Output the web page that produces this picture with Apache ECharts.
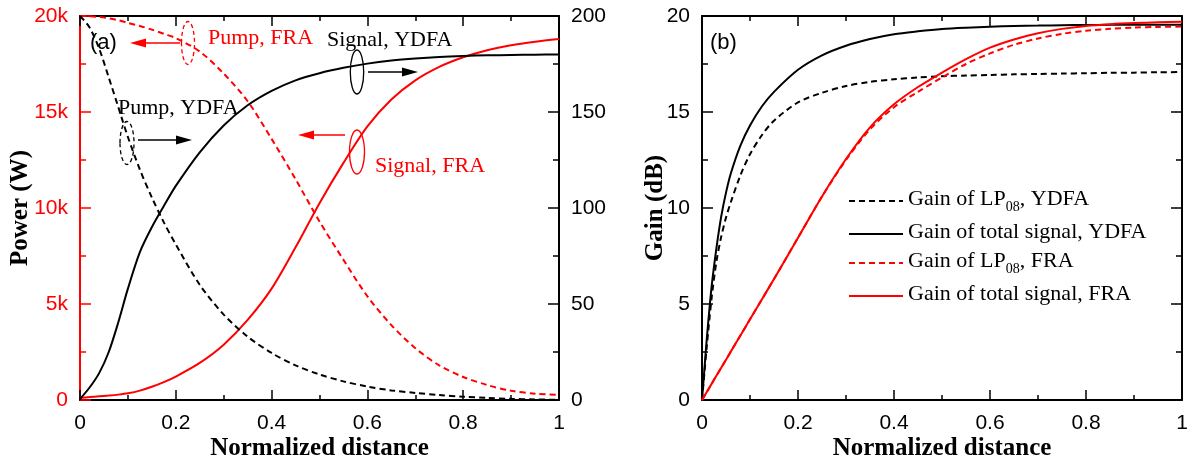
<!DOCTYPE html>
<html>
<head>
<meta charset="utf-8">
<script src="https://cdn.jsdelivr.net/npm/echarts@6/dist/echarts.min.js"></script>
<style>
  html, body { margin: 0; padding: 0; background: #fff; }
  #chart { width: 1200px; height: 468px; }
</style>
</head>
<body>
<div id="chart"></div>
<script>
// ---- (a) power along the fibre ----
const xPower = [0, 0.02, 0.04, 0.06, 0.08, 0.1, 0.125, 0.15, 0.175, 0.2, 0.25, 0.3, 0.35, 0.4, 0.45, 0.5, 0.55, 0.6, 0.65, 0.7, 0.75, 0.8, 0.85, 0.9, 0.95, 1];
// FRA powers (W), left axis
const pumpFRA   = [20000, 19990, 19950, 19880, 19780, 19640, 19480, 19290, 19070, 18850, 18150, 17000, 15560, 13600, 11500, 9300, 7300, 5400, 3900, 2700, 1800, 1200, 780, 480, 330, 260];
const signalFRA = [120, 150, 190, 230, 280, 350, 490, 690, 930, 1220, 1930, 2880, 4170, 5800, 7950, 10250, 12350, 14250, 15650, 16650, 17350, 17850, 18220, 18480, 18660, 18800];
// YDFA powers (W), right axis
const pumpYDFA   = [200, 194, 183, 168, 152.5, 137, 120, 105.5, 92.5, 81, 60, 44.5, 33, 24.5, 18, 13.3, 9.7, 7.0, 5.0, 3.7, 2.6, 1.7, 1.1, 0.6, 0.3, 0.1];
const signalYDFA = [0.5, 6.5, 14, 25, 40.5, 58, 77, 90, 101, 111.5, 129, 143, 153.5, 161, 166.5, 170.2, 173, 175.2, 176.8, 177.9, 178.7, 179.2, 179.5, 179.7, 179.85, 180];

// ---- (b) gain along the fibre ----
const xGain = [0, 0.005, 0.01, 0.02, 0.03, 0.04, 0.05, 0.06, 0.08, 0.1, 0.125, 0.15, 0.2, 0.25, 0.3, 0.35, 0.4, 0.45, 0.5, 0.55, 0.6, 0.65, 0.7, 0.75, 0.8, 0.85, 0.9, 0.95, 1];
const gainLpYDFA  = [0, 1.4, 2.8, 5.3, 7.2, 8.5, 9.5, 10.3, 11.7, 12.8, 13.8, 14.55, 15.5, 16.0, 16.35, 16.57, 16.7, 16.8, 16.86, 16.9, 16.93, 16.96, 16.98, 17.0, 17.02, 17.04, 17.05, 17.07, 17.08];
const gainTotYDFA = [0, 1.6, 3.2, 5.9, 7.9, 9.55, 10.8, 11.8, 13.25, 14.3, 15.3, 16.05, 17.2, 17.95, 18.45, 18.8, 19.05, 19.2, 19.32, 19.39, 19.44, 19.48, 19.5, 19.52, 19.53, 19.54, 19.55, 19.55, 19.55];
const gainLpFRA   = [0, 0.21, 0.42, 0.84, 1.26, 1.68, 2.1, 2.52, 3.36, 4.2, 5.25, 6.3, 8.45, 10.6, 12.5, 14.1, 15.25, 16.05, 16.8, 17.5, 18.05, 18.5, 18.83, 19.07, 19.23, 19.33, 19.4, 19.43, 19.45];
const gainTotFRA  = [0, 0.21, 0.42, 0.84, 1.26, 1.68, 2.1, 2.52, 3.36, 4.2, 5.25, 6.3, 8.45, 10.6, 12.55, 14.2, 15.4, 16.3, 17.05, 17.75, 18.35, 18.78, 19.1, 19.33, 19.48, 19.57, 19.63, 19.67, 19.7];

const legendNames = ['Gain of LP08, YDFA', 'Gain of total signal, YDFA', 'Gain of LP08, FRA', 'Gain of total signal, FRA'];

const SANS = '"Liberation Sans", Arial, sans-serif';
const SERIF = '"Liberation Serif", "Times New Roman", serif';
const RED = '#ff0000';
const BLACK = '#000000';

const pairs = (xs, ys) => xs.map((x, i) => [x, ys[i]]);

function xAxisDef(grid, pos, withName) {
  return {
    type: 'value', gridIndex: grid, position: pos, min: 0, max: 1, interval: 0.2,
    axisLine: { show: true, onZero: false, lineStyle: { color: BLACK, width: 2 } },
    axisTick: { show: true, inside: true, length: 10, lineStyle: { color: BLACK, width: 1.5 } },
    minorTick: { show: true, splitNumber: 2, length: 5, lineStyle: { color: BLACK, width: 1.5 } },
    splitLine: { show: false },
    axisLabel: { show: withName, fontFamily: SANS, fontSize: 21, color: BLACK, margin: 13, showMaxLabel: true, showMinLabel: true },
    name: withName ? 'Normalized distance' : '',
    nameLocation: 'middle', nameGap: 36, nameMoveOverlap: false,
    nameTextStyle: { fontFamily: SERIF, fontWeight: 'bold', fontSize: 25, color: BLACK }
  };
}

function yAxisDef(grid, pos, max, interval, color, showLabel, fmt, name, nameGap) {
  return {
    type: 'value', gridIndex: grid, position: pos, min: 0, max: max, interval: interval,
    axisLine: { show: true, onZero: false, lineStyle: { color: color, width: 2 } },
    axisTick: { show: true, inside: true, length: 11, lineStyle: { color: color, width: 1.5 } },
    minorTick: { show: true, splitNumber: 2, length: 6, lineStyle: { color: color, width: 1.5 } },
    splitLine: { show: false },
    axisLabel: { show: showLabel, fontFamily: SANS, fontSize: 21, color: color, margin: 12, formatter: fmt, showMaxLabel: true, showMinLabel: true },
    name: name || '', nameLocation: 'middle', nameGap: nameGap || 40, nameRotate: 90, nameMoveOverlap: false,
    nameTextStyle: { fontFamily: SERIF, fontWeight: 'bold', fontSize: 25, color: BLACK }
  };
}

function lineSeries(name, xi, yi, data, color, dashed, z) {
  return {
    name: name, type: 'line', xAxisIndex: xi, yAxisIndex: yi, data: data,
    symbol: 'none', showSymbol: false, smooth: 0.3,
    lineStyle: { color: color, width: 2, type: dashed ? [6, 4] : 'solid' },
    itemStyle: { color: color },
    z: z || 2, animation: false
  };
}

// annotation helpers
function label(text, x, y, color, font) {
  return { type: 'text', x: x, y: y, z: 100,
    style: { text: text, fill: color, font: font || ('22px ' + SERIF), verticalAlign: 'middle', align: 'left' } };
}
function ellipse(cx, cy, rx, ry, color, dashed) {
  return { type: 'ellipse', z: 100, shape: { cx: cx, cy: cy, rx: rx, ry: ry },
    style: { fill: 'none', stroke: color, lineWidth: 1.3, lineDash: dashed ? [4, 3] : null } };
}
function arrow(xFrom, xTip, y, color) {
  const dir = xTip > xFrom ? 1 : -1;
  const head = 16, half = 4.5;
  return { type: 'group', z: 100, children: [
    { type: 'line', shape: { x1: xFrom, y1: y, x2: xTip - dir * head, y2: y }, style: { stroke: color, lineWidth: 1.5 } },
    { type: 'polygon', shape: { points: [[xTip, y], [xTip - dir * head, y - half], [xTip - dir * head, y + half]] }, style: { fill: color } }
  ] };
}

const chart = echarts.init(document.getElementById('chart'), null, { renderer: 'canvas' });

const option = {
  animation: false,
  backgroundColor: '#ffffff',
  grid: [
    { left: 80, right: 641, top: 16, bottom: 68, containLabel: false },
    { left: 702, right: 18, top: 16, bottom: 68, containLabel: false }
  ],
  xAxis: [
    xAxisDef(0, 'bottom', true),
    xAxisDef(0, 'top', false),
    xAxisDef(1, 'bottom', true),
    xAxisDef(1, 'top', false)
  ],
  yAxis: [
    yAxisDef(0, 'left', 20000, 5000, RED, true, v => v === 0 ? '0' : (v / 1000) + 'k', 'Power (W)', 47),
    yAxisDef(0, 'right', 200, 50, BLACK, true, null),
    yAxisDef(1, 'left', 20, 5, BLACK, true, null, 'Gain (dB)', 34),
    yAxisDef(1, 'right', 20, 5, BLACK, false, null)
  ],
  legend: {
    data: legendNames,
    orient: 'vertical', left: 848, top: 188, padding: 0,
    itemWidth: 54, itemHeight: 14, itemGap: 7,
    selectedMode: false,
    itemStyle: { color: 'rgba(0,0,0,0)', borderWidth: 0, opacity: 0 },
    textStyle: {
      fontFamily: SERIF, fontSize: 22, color: BLACK,
      rich: {
        n: { fontFamily: SERIF, fontSize: 22, lineHeight: 26, verticalAlign: 'top', color: BLACK },
        s: { fontFamily: SERIF, fontSize: 14, lineHeight: 14, verticalAlign: 'bottom', color: BLACK }
      }
    },
    formatter: function (name) {
      const parts = name.split('LP08');
      if (parts.length === 2) return '{n|' + parts[0] + 'LP}{s|08}{n|' + parts[1] + '}';
      return '{n|' + name + '}';
    }
  },
  series: [
    lineSeries('Pump, FRA', 0, 0, pairs(xPower, pumpFRA), RED, true),
    lineSeries('Signal, FRA', 0, 0, pairs(xPower, signalFRA), RED, false),
    lineSeries('Pump, YDFA', 0, 1, pairs(xPower, pumpYDFA), BLACK, true),
    lineSeries('Signal, YDFA', 0, 1, pairs(xPower, signalYDFA), BLACK, false),
    lineSeries(legendNames[0], 2, 2, pairs(xGain, gainLpYDFA), BLACK, true),
    lineSeries(legendNames[1], 2, 2, pairs(xGain, gainTotYDFA), BLACK, false),
    lineSeries(legendNames[2], 2, 2, pairs(xGain, gainLpFRA), RED, true, 3),
    lineSeries(legendNames[3], 2, 2, pairs(xGain, gainTotFRA), RED, false, 3)
  ],
  graphic: [
    label('(a)', 90, 43, BLACK, '22px ' + SANS),
    label('(b)', 710, 43, BLACK, '22px ' + SANS),
    // pump, FRA
    ellipse(188, 43, 6.5, 21.5, RED, true),
    arrow(180, 130, 43, RED),
    label('Pump, FRA', 208, 38, RED),
    // pump, YDFA
    ellipse(127, 143, 7, 21.5, BLACK, true),
    arrow(138, 192, 140, BLACK),
    label('Pump, YDFA', 118, 108, BLACK),
    // signal, YDFA
    ellipse(357, 72, 6.7, 22, BLACK, false),
    arrow(368, 418, 72, BLACK),
    label('Signal, YDFA', 327, 40, BLACK),
    // signal, FRA
    ellipse(357, 152, 7.5, 22, RED, false),
    arrow(345, 298, 135, RED),
    label('Signal, FRA', 375, 166, RED)
  ]
};

chart.setOption(option);
</script>
</body>
</html>
